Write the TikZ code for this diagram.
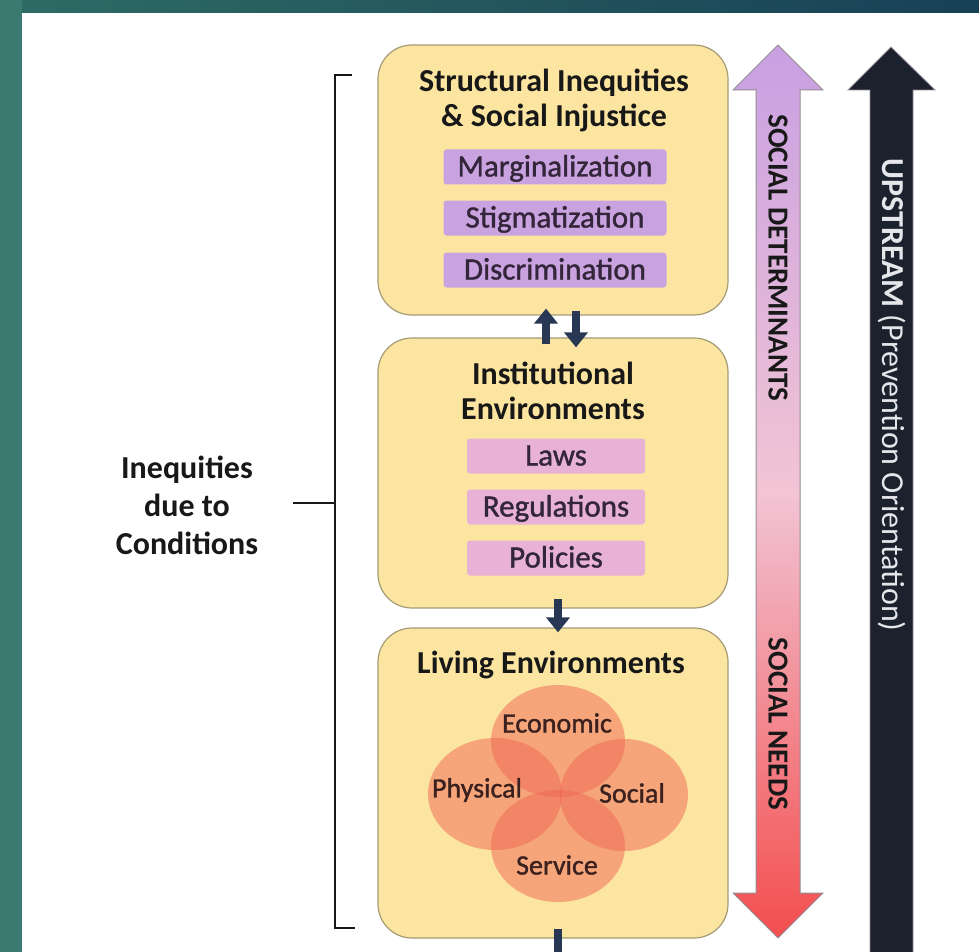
\documentclass[tikz,border=0pt]{standalone}
\usepackage{fontspec}
\setmainfont{Carlito}
\newfontfamily\medfont{Carlito}[FakeBold=1.2]
\usepackage{xcolor}
\usetikzlibrary{arrows.meta,positioning}

\definecolor{boxfill}{RGB}{252,229,160}
\definecolor{boxedge}{RGB}{165,155,118}
\definecolor{tagpurple}{RGB}{201,163,223}
\definecolor{tagpink}{RGB}{231,178,214}
\definecolor{tagtext}{RGB}{52,38,58}
\definecolor{inktext}{RGB}{24,24,24}
\definecolor{arrownavy}{RGB}{40,56,84}
\definecolor{upstreamfill}{RGB}{27,33,45}
\definecolor{upstreamtext}{RGB}{228,230,234}
\definecolor{vennfill}{RGB}{239,102,84}
\definecolor{venntext}{RGB}{58,32,30}
\definecolor{sdtop}{RGB}{200,160,226}
\definecolor{sdmid}{RGB}{242,196,212}
\definecolor{sdbottom}{RGB}{243,78,78}
\definecolor{arrowedge}{RGB}{150,140,150}
\definecolor{frameleft}{RGB}{58,122,112}
\definecolor{frametopA}{RGB}{46,108,100}
\definecolor{frametopB}{RGB}{24,64,86}

\begin{document}
\begin{tikzpicture}[x=1pt,y=-1pt,
    main box/.style={draw=boxedge,line width=1.2pt,fill=boxfill,rounded corners=34pt,
                     minimum width=350pt,inner sep=0pt},
    tag node/.style={rounded corners=3pt,minimum height=35pt,inner sep=0pt,text=tagtext,
                     text height=24pt,text depth=5pt,font=\medfont\fontsize{31}{31}\selectfont},
    title node/.style={align=center,text=inktext,font=\bfseries\fontsize{32}{35}\selectfont},
    venn/.style={fill=vennfill,fill opacity=0.5},
    venn label/.style={text=venntext,font=\medfont\fontsize{28}{28}\selectfont},
    flow/.style={draw=arrownavy,line width=8pt,-{Triangle[width=23pt,length=15pt]}},
    bracket/.style={draw=inktext,line width=2.2pt},
    side label/.style={rotate=-90,font=\bfseries\fontsize{29}{29}\selectfont,text=inktext}]

%background and frame
  \fill[white] (0,0) rectangle (979,952);
  \useasboundingbox (0,0) rectangle (979,952);
  \shade[left color=frametopA,right color=frametopB] (0,0) rectangle (979,13);
  \fill[frameleft] (0,0) rectangle (22,952);

%boxes
  \node[main box,minimum height=270pt] (struct) at (553,180) {};
  \node[main box,minimum height=270pt] (inst) at (553,473) {};
  \node[main box,minimum height=310pt] (living) at (553,783) {};

%structural inequities
  \node[title node] (structtitle) at (554,100) {Structural Inequities\\\& Social Injustice};
  \node[tag node,fill=tagpurple,minimum width=223pt] (marg) at (555,167) {Marginalization};
  \node[tag node,fill=tagpurple,minimum width=223pt] (stig) at (555,218) {Stigmatization};
  \node[tag node,fill=tagpurple,minimum width=223pt] (discr) at (555,270) {Discrimination};

%institutional environments
  \node[title node] (insttitle) at (553,391) {Institutional\\Environments};
  \node[tag node,fill=tagpink,minimum width=178pt] (laws) at (556,456) {Laws};
  \node[tag node,fill=tagpink,minimum width=178pt] (regs) at (556,507) {Regulations};
  \node[tag node,fill=tagpink,minimum width=178pt] (pols) at (556,558) {Policies};

%living environments
  \node[title node] (livingtitle) at (551,665) {Living Environments};
  \fill[venn] (558,741) ellipse [x radius=67pt,y radius=56pt];
  \fill[venn] (495,794) ellipse [x radius=67pt,y radius=56pt];
  \fill[venn] (624,795) ellipse [x radius=64pt,y radius=56pt];
  \fill[venn] (558,846) ellipse [x radius=67pt,y radius=56pt];
  \node[venn label] (econ) at (557,723) {Economic};
  \node[venn label] (phys) at (477,790) {Physical};
  \node[venn label] (soc) at (632,793) {Social};
  \node[venn label] (serv) at (557,865) {Service};

%small arrows
  \draw[flow,shorten <=-7pt,shorten >=-7pt] ([xshift=-7pt]inst.north) -- ([xshift=-7pt]struct.south);
  \draw[flow,shorten <=-5pt,shorten >=-10pt] ([xshift=23pt]struct.south) -- ([xshift=23pt]inst.north);
  \draw[flow,shorten <=-10pt,shorten >=-5pt] ([xshift=5pt]inst.south) -- ([xshift=5pt]living.north);
  \coordinate (stubend) at (558,952);
  \draw[draw=arrownavy,line width=8pt,shorten <=-10pt] ([xshift=5pt]living.south) -- (stubend);

%bracket
  \node[title node,font=\bfseries\fontsize{32}{38}\selectfont] (cond) at (187,505) {Inequities\\due to\\Conditions};
  \coordinate (btop) at (335,75);
  \coordinate (bbot) at (335,928);
  \coordinate (bmid) at (335,503);
  \coordinate (tick) at (293,503);
  \draw[bracket] ([xshift=17pt]btop) -- (btop) -- (bbot) -- ([xshift=20pt]bbot);
  \draw[bracket] (bmid) -- (tick);

%social determinants / needs
  \shade[top color=sdtop,bottom color=sdbottom,middle color=sdmid,draw=arrowedge,line width=1pt]
    (778,45) -- (823,90) -- (800,90) -- (800,893) -- (823,893) -- (778,938)
    -- (733,893) -- (756,893) -- (756,90) -- (733,90) -- cycle;
  \node[side label] (sdet) at (778,258) {SOCIAL DETERMINANTS};
  \node[side label] (sneeds) at (778,724) {SOCIAL NEEDS};

%upstream
  \fill[upstreamfill,draw=arrowedge,line width=0.8pt]
    (891,47) -- (935,90) -- (913,90) -- (913,953) -- (870,953) -- (870,90) -- (848,90) -- cycle;
  \node[rotate=-90,text=upstreamtext,font=\fontsize{32}{32}\selectfont] (upstream) at (892,395)
    {\textbf{UPSTREAM} (Prevention Orientation)};

\end{tikzpicture}
\end{document}
